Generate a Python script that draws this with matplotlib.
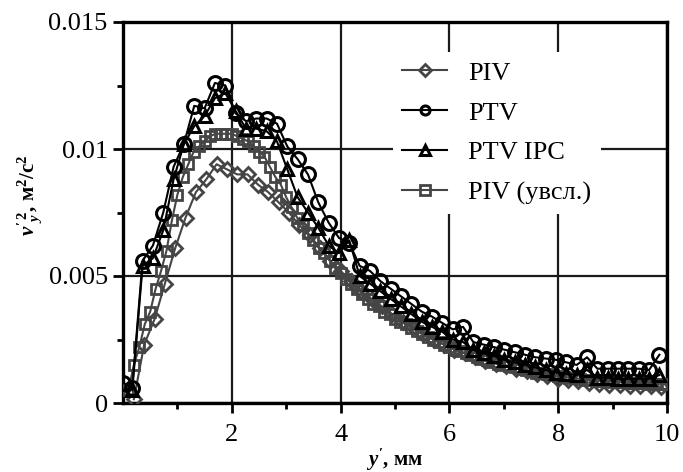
import matplotlib
matplotlib.use("Agg")
import matplotlib.pyplot as plt
from matplotlib.ticker import FixedLocator, FixedFormatter

plt.rcParams['font.family'] = ['Liberation Serif', 'DejaVu Serif']
plt.rcParams['mathtext.fontset'] = 'custom'
plt.rcParams['mathtext.rm'] = 'Liberation Serif:bold'
plt.rcParams['mathtext.it'] = 'Liberation Serif:italic:bold'
plt.rcParams['mathtext.bf'] = 'Liberation Serif:bold'

# ---------------- data (values in units of 1e-3 m^2/s^2) ----------------
x_piv = [0.20, 0.39, 0.58, 0.77, 0.96, 1.15, 1.34, 1.53, 1.72, 1.91, 2.10, 2.29, 2.48, 2.67,
         2.86, 3.05, 3.24, 3.43, 3.62, 3.81, 4.00, 4.19, 4.38, 4.57, 4.76, 4.95, 5.14, 5.33,
         5.52, 5.71, 5.90, 6.09, 6.28, 6.47, 6.66, 6.85, 7.04, 7.23, 7.42, 7.61, 7.80, 7.99,
         8.18, 8.37, 8.56, 8.75, 8.94, 9.13, 9.32, 9.51, 9.70, 9.89]
y_piv = [0.15, 2.3, 3.3, 4.7, 6.1, 7.3, 8.3, 8.8, 9.4, 9.2, 9.0, 9.0, 8.6, 8.3,
         7.9, 7.5, 7.0, 6.6, 6.1, 5.6, 5.2, 4.8, 4.4, 4.1, 3.8, 3.5, 3.2, 3.0,
         2.7, 2.5, 2.3, 2.1, 1.95, 1.8, 1.65, 1.55, 1.45, 1.35, 1.25, 1.15, 1.05, 0.95,
         0.9, 0.85, 0.8, 0.75, 0.72, 0.7, 0.68, 0.65, 0.65, 0.62]

x_ptv = [0.00, 0.17, 0.36, 0.55, 0.74, 0.93, 1.12, 1.31, 1.50, 1.69, 1.88, 2.07, 2.26, 2.45,
         2.64, 2.83, 3.02, 3.21, 3.40, 3.59, 3.78, 3.97, 4.16, 4.35, 4.54, 4.73, 4.92, 5.11,
         5.30, 5.49, 5.68, 5.87, 6.06, 6.25, 6.44, 6.63, 6.82, 7.01, 7.20, 7.39, 7.58, 7.77,
         7.96, 8.15, 8.34, 8.53, 8.72, 8.91, 9.10, 9.29, 9.48, 9.67, 9.86]
y_ptv = [0.8, 0.6, 5.6, 6.2, 7.5, 9.3, 10.2, 11.7, 11.6, 12.6, 12.5, 11.4, 11.1, 11.2,
         11.2, 11.0, 10.1, 9.6, 9.0, 7.9, 7.1, 6.5, 6.3, 5.4, 5.2, 4.8, 4.5, 4.2,
         3.9, 3.6, 3.4, 3.15, 2.9, 3.0, 2.4, 2.3, 2.2, 2.1, 2.0, 1.9, 1.8, 1.75,
         1.7, 1.6, 1.5, 1.8, 1.35, 1.35, 1.35, 1.35, 1.35, 1.3, 1.9]

x_ipc = [0.17, 0.36, 0.55, 0.74, 0.93, 1.12, 1.31, 1.50, 1.69, 1.88, 2.07, 2.26, 2.45,
         2.64, 2.83, 3.02, 3.21, 3.40, 3.59, 3.78, 3.97, 4.16, 4.35, 4.54, 4.73, 4.92, 5.11,
         5.30, 5.49, 5.68, 5.87, 6.06, 6.25, 6.44, 6.63, 6.82, 7.01, 7.20, 7.39, 7.58, 7.77,
         7.96, 8.15, 8.34, 8.53, 8.72, 8.91, 9.10, 9.29, 9.48, 9.67, 9.86]
y_ipc = [0.5, 5.4, 5.7, 6.8, 8.8, 10.2, 10.9, 11.3, 12.0, 12.2, 11.5, 10.8, 10.8,
         10.7, 10.3, 9.2, 8.1, 7.5, 6.9, 6.2, 5.9, 6.4, 5.0, 4.7, 4.4, 4.1, 3.8,
         3.5, 3.2, 3.0, 2.8, 2.5, 2.4, 2.1, 1.95, 1.85, 1.7, 1.6, 1.5, 1.4, 1.3,
         1.2, 1.15, 1.1, 1.3, 1.0, 1.0, 0.95, 0.95, 0.95, 0.95, 1.1]

x_big = [0.1, 0.2, 0.3, 0.4, 0.5, 0.6, 0.7, 0.8, 0.9, 1.0, 1.1, 1.2, 1.3, 1.4, 1.5, 1.6, 1.7,
         1.8, 1.9, 2.0, 2.1, 2.2, 2.3, 2.4, 2.5, 2.6, 2.7, 2.8, 2.9, 3.0, 3.1, 3.2, 3.3, 3.4,
         3.5, 3.6, 3.7, 3.8, 3.9, 4.0, 4.1, 4.2, 4.3, 4.4, 4.5, 4.6, 4.7, 4.8, 4.9, 5.0, 5.1,
         5.2, 5.3, 5.4, 5.5, 5.6, 5.7, 5.8, 5.9, 6.0, 6.1, 6.2, 6.3, 6.4, 6.5, 6.6, 6.7, 6.8,
         6.9, 7.0, 7.1, 7.2, 7.3, 7.4, 7.5, 7.6, 7.7, 7.8, 7.9, 8.0, 8.1, 8.2, 8.3, 8.4, 8.5,
         8.6, 8.7, 8.8, 8.9, 9.0, 9.1, 9.2, 9.3, 9.4, 9.5, 9.6, 9.7, 9.8, 9.9, 10.0]
y_big = [0.5, 1.5, 2.2, 3.1, 3.6, 4.5, 5.2, 6.0, 7.2, 8.2, 8.9, 9.4, 9.9, 10.1, 10.3, 10.5, 10.6,
         10.6, 10.6, 10.6, 10.5, 10.4, 10.3, 10.1, 9.9, 9.7, 9.3, 8.9, 8.6, 8.1, 7.7, 7.3, 7.0, 6.7,
         6.4, 6.1, 5.9, 5.6, 5.3, 5.1, 4.9, 4.7, 4.5, 4.3, 4.1, 3.9, 3.8, 3.6, 3.5, 3.3, 3.2,
         3.1, 2.95, 2.85, 2.7, 2.6, 2.5, 2.4, 2.3, 2.2, 2.1, 2.05, 1.95, 1.9, 1.8, 1.75, 1.7, 1.6,
         1.55, 1.5, 1.45, 1.4, 1.35, 1.3, 1.25, 1.2, 1.18, 1.15, 1.1, 1.05, 1.02, 1.0, 0.97, 0.95, 0.92,
         0.9, 0.88, 0.87, 0.85, 0.84, 0.82, 0.81, 0.8, 0.79, 0.78, 0.77, 0.76, 0.76, 0.75, 0.75]

labels = ["PIV", "PTV", "PTV IPC", "PIV (увсл.)"]
xticks = [2, 4, 6, 8, 10]
xticklabels = ["2", "4", "6", "8", "10"]
yticks = [0, 0.005, 0.01, 0.015]
yticklabels = ["0", "0.005", "0.01", "0.015"]

scale = 1e-3
fig = plt.figure(figsize=(6.83, 4.72), dpi=100)
ax = fig.add_axes([123/683, 1-403/472, (667-123)/683, (403-22)/472])

gray = '#454545'
ax.plot(x_big, [v*scale for v in y_big], color=gray, lw=1.5, marker='s', ms=7.5,
        mfc='none', mec=gray, mew=2.0, label=labels[3], zorder=3)
ax.plot(x_piv, [v*scale for v in y_piv], color=gray, lw=1.5, marker='D', ms=7,
        mfc='none', mec=gray, mew=2.0, label=labels[0], zorder=4)
ax.plot(x_ipc, [v*scale for v in y_ipc], color='black', lw=1.5, marker='^', ms=9,
        mfc='none', mec='black', mew=2.2, label=labels[2], zorder=5)
ax.plot(x_ptv, [v*scale for v in y_ptv], color='black', lw=1.5, marker='o', ms=10,
        mfc='none', mec='black', mew=2.2, label=labels[1], zorder=6)

ax.set_xlim(0, 10)
ax.set_ylim(0, 0.015)

ax.xaxis.set_major_locator(FixedLocator(xticks))
ax.xaxis.set_major_formatter(FixedFormatter(xticklabels))
ax.xaxis.set_minor_locator(FixedLocator([1, 3, 5, 7, 9]))
ax.yaxis.set_major_locator(FixedLocator(yticks))
ax.yaxis.set_major_formatter(FixedFormatter(yticklabels))
ax.yaxis.set_minor_locator(FixedLocator([0.0025, 0.0075, 0.0125]))

ax.tick_params(axis='both', which='major', direction='out', length=7, width=2,
               labelsize=19, colors='black')
ax.tick_params(axis='both', which='minor', direction='out', length=4, width=2)
ax.tick_params(axis='x', which='major', pad=8)
ax.tick_params(axis='y', which='major', pad=4)

for s in ax.spines.values():
    s.set_linewidth(2.4)

ax.grid(True, which='major', color='#1a1a1a', lw=1.6)
ax.set_axisbelow(True)

handles, labs = ax.get_legend_handles_labels()
order = [labs.index(l) for l in labels]
leg = ax.legend([handles[i] for i in order], [labs[i] for i in order],
                loc='upper left', bbox_to_anchor=(393/683, 1-52/472),
                bbox_transform=fig.transFigure, fontsize=19, frameon=True,
                framealpha=1, facecolor='white', edgecolor='none', fancybox=False,
                handlelength=1.7, handletextpad=0.8, labelspacing=0.62,
                borderpad=0.35, borderaxespad=0)
leg.set_zorder(10)
for h in leg.legend_handles:
    h.set_markersize(6.5)

fig.text(30/683, 1-195/472, r"$v'^{\,2}_{y}$, м$^{2}$/с$^{2}$", rotation=90,
         ha='center', va='center', fontsize=15, fontweight='bold')
fig.text(395/683, 1-466/472, r"$y'$, мм", ha='center', va='baseline',
         fontsize=15, fontweight='bold')

fig.savefig("out.png", dpi=100)
